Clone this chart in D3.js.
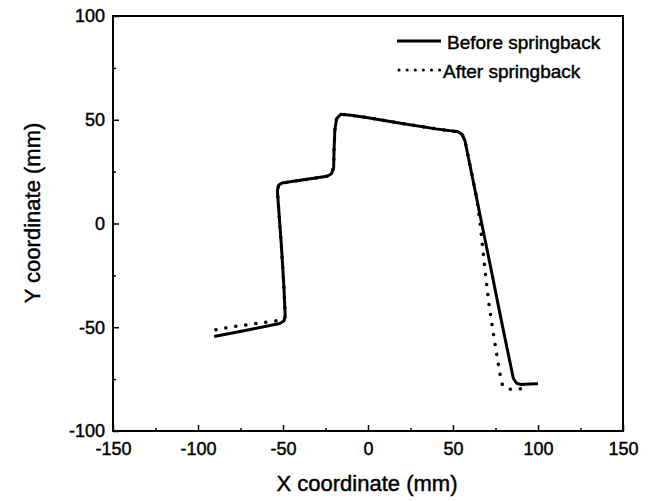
<!DOCTYPE html>
<html>
<head>
<meta charset="utf-8">
<script src="https://cdn.jsdelivr.net/npm/d3@7"></script>
<style>
  body { margin: 0; background: #fff; }
  text { font-family: "Liberation Sans", Arial, sans-serif; fill: #000; stroke: #000; stroke-width: 0.45px; }
</style>
</head>
<body>
<svg id="chart"></svg>
<script>
// Profile before springback (mm)
const beforeX = [-90.5, -70, -52, -49.5, -48.7, -49.5, -51, -52.8, -53.3, -52.5, -50.5, -40, -30, -24, -21.5, -20.2, -20, -19.5, -18.5, -16, -10, 0, 20, 40, 53, 55.3, 57, 61, 66.9, 72, 78, 85.5, 87.5, 90, 95, 100];
const beforeY = [-54.5, -51.2, -48.2, -47, -44.5, -30, -10, 10, 16, 18.5, 19.5, 20.8, 22, 22.8, 24, 27, 35, 45, 50.5, 52.7, 52.2, 51, 48.2, 45.6, 44.2, 43, 40, 24, 0, -20.5, -45, -74.7, -77, -77.6, -77.3, -77.2];

// Profile after springback (mm)
const afterX = [-89.5, -80, -70, -57, -50, -49, -48.7, -49.5, -51, -52.8, -53.3, -52.5, -50.5, -40, -30, -24, -21.5, -20.2, -20, -19.5, -18.5, -16, -10, 0, 20, 40, 53, 55.3, 57, 61, 64, 66, 68.5, 71, 74.5, 77.5, 79, 81, 85, 92];
const afterY = [-51.2, -49.8, -48.7, -47.2, -46.5, -45.5, -44.5, -30, -10, 10, 16, 18.5, 19.5, 20.8, 22, 22.8, 24, 27, 35, 45, 50.5, 52.7, 52.2, 51, 48.2, 45.6, 44.2, 43, 40, 24, 12, 0, -20, -38, -57, -72, -77.5, -79.5, -80, -79.5];

const xTicks = [-150, -100, -50, 0, 50, 100, 150];
const xMinor = [-125, -75, -25, 25, 75, 125];
const yTicks = [-100, -50, 0, 50, 100];
const yMinor = [-75, -25, 25, 75];

const width = 649, height = 501;
const margin = { left: 113, right: 26, top: 16, bottom: 70 };

const svg = d3.select("#chart")
    .attr("width", width)
    .attr("height", height);

const x = d3.scaleLinear().domain([-150, 150]).range([margin.left, width - margin.right]);
const y = d3.scaleLinear().domain([-100, 100]).range([height - margin.bottom, margin.top]);

const plain = d => String(d);  // hyphen minus like the original

// Bottom axis, ticks pointing inward
const xAxis = svg.append("g")
    .attr("transform", `translate(0,${y(-100)})`)
    .call(d3.axisBottom(x).tickValues(xTicks).tickSize(-6).tickPadding(11).tickFormat(plain));
xAxis.select(".domain").remove();
xAxis.selectAll("line").attr("stroke-width", 1.5);
xAxis.selectAll("text").style("font-size", "18px");

svg.append("g")
    .attr("transform", `translate(0,${y(-100)})`)
    .call(d3.axisBottom(x).tickValues(xMinor).tickSize(-3).tickFormat(""))
    .call(g => g.select(".domain").remove())
    .selectAll("line").attr("stroke-width", 1.5);

// Left axis
const yAxis = svg.append("g")
    .attr("transform", `translate(${x(-150)},0)`)
    .call(d3.axisLeft(y).tickValues(yTicks).tickSize(-6).tickPadding(8).tickFormat(plain));
yAxis.select(".domain").remove();
yAxis.selectAll("line").attr("stroke-width", 1.5);
yAxis.selectAll("text").style("font-size", "18px");

svg.append("g")
    .attr("transform", `translate(${x(-150)},0)`)
    .call(d3.axisLeft(y).tickValues(yMinor).tickSize(-3).tickFormat(""))
    .call(g => g.select(".domain").remove())
    .selectAll("line").attr("stroke-width", 1.5);

// Frame
svg.append("rect")
    .attr("x", x(-150))
    .attr("y", y(100))
    .attr("width", x(150) - x(-150))
    .attr("height", y(-100) - y(100))
    .attr("fill", "none")
    .attr("stroke", "#000")
    .attr("stroke-width", 2);

const line = d3.line()
    .x(d => x(d[0]))
    .y(d => y(d[1]));

const after = afterX.map((v, i) => [v, afterY[i]]);
const before = beforeX.map((v, i) => [v, beforeY[i]]);

svg.append("path")
    .attr("d", line(after))
    .attr("fill", "none")
    .attr("stroke", "#000")
    .attr("stroke-width", 3.5)
    .attr("stroke-linecap", "round")
    .attr("stroke-dasharray", "0.1,10");

svg.append("path")
    .attr("d", line(before))
    .attr("fill", "none")
    .attr("stroke", "#000")
    .attr("stroke-width", 3)
    .attr("stroke-linejoin", "round");

// Legend
const legend = svg.append("g");
legend.append("line")
    .attr("x1", 397).attr("x2", 441).attr("y1", 41).attr("y2", 41)
    .attr("stroke", "#000").attr("stroke-width", 3);
legend.append("text")
    .attr("x", 447).attr("y", 42).attr("dy", "0.35em")
    .style("font-size", "19px")
    .text("Before springback");
legend.append("line")
    .attr("x1", 399).attr("x2", 441).attr("y1", 70).attr("y2", 70)
    .attr("stroke", "#000").attr("stroke-width", 3)
    .attr("stroke-linecap", "round")
    .attr("stroke-dasharray", "0.1,8");
legend.append("text")
    .attr("x", 443).attr("y", 71).attr("dy", "0.35em")
    .style("font-size", "19px")
    .text("After springback");

// Axis titles
svg.append("text")
    .attr("x", (x(-150) + x(150)) / 2 - 1)
    .attr("y", 483)
    .attr("dy", "0.35em")
    .attr("text-anchor", "middle")
    .style("font-size", "22px")
    .text("X coordinate (mm)");

svg.append("text")
    .attr("transform", `translate(32,213) rotate(-90)`)
    .attr("dy", "0.35em")
    .attr("text-anchor", "middle")
    .style("font-size", "22px")
    .text("Y coordinate (mm)");
</script>
</body>
</html>
